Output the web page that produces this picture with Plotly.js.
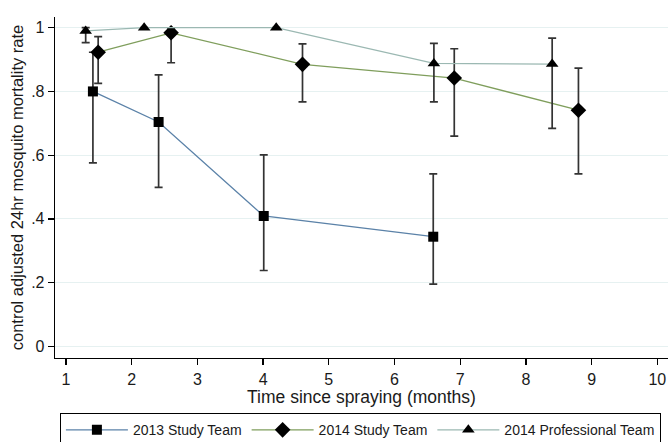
<!DOCTYPE html>
<html>
<head>
<meta charset="utf-8">
<script src="https://cdn.plot.ly/plotly-3.0.1.min.js"></script>
<style>html,body{margin:0;padding:0;background:#fff;}#chart{width:668px;height:442px;}</style>
</head>
<body>
<div id="chart"></div>
<script>
// Data (months since spraying vs control-adjusted 24hr mortality)
const names = ["2013 Study Team", "2014 Study Team", "2014 Professional Team"];

const x2013 = [1.41, 2.41, 4.01, 6.59];
const y2013 = [0.800, 0.704, 0.409, 0.344];
const hi2013 = [0.923, 0.852, 0.601, 0.541];
const lo2013 = [0.576, 0.499, 0.238, 0.195];

const x2014s = [1.49, 2.60, 4.60, 6.91, 8.80];
const y2014s = [0.923, 0.984, 0.885, 0.842, 0.741];
const hi2014s = [0.972, 0.998, 0.949, 0.934, 0.873];
const lo2014s = [0.825, 0.890, 0.767, 0.660, 0.541];

const x2014p = [1.30, 2.19, 4.20, 6.60, 8.40];
const y2014p = [0.990, 1.000, 1.000, 0.888, 0.886];
const hi2014p = [1.000, 1.000, 1.000, 0.951, 0.967];
const lo2014p = [0.953, 1.000, 1.000, 0.767, 0.684];

const xTickVals = [1, 2, 3, 4, 5, 6, 7, 8, 9, 10];
const yTickVals = [0, 0.2, 0.4, 0.6, 0.8, 1];
const yTickText = ["0", ".2", ".4", ".6", ".8", "1"];

const lineColors = ["#5b82a8", "#7f9e5c", "#9bb8b2"];
const symbols = ["square", "diamond", "triangle-up"];
const sizes = [10, 12, 11];

function mk(i, xs, ys, hi, lo) {
  return {
    type: "scatter", mode: "lines+markers", name: names[i],
    x: xs, y: ys,
    line: {color: lineColors[i], width: 1.3},
    marker: {symbol: symbols[i], size: sizes[i], color: "#000"},
    error_y: {type: "data", symmetric: false,
      array: hi.map((v, k) => v - ys[k]),
      arrayminus: lo.map((v, k) => ys[k] - v),
      color: "#333", thickness: 1.7, width: 4},
    cliponaxis: false
  };
}

const traces = [
  mk(0, x2013, y2013, hi2013, lo2013),
  mk(1, x2014s, y2014s, hi2014s, lo2014s),
  mk(2, x2014p, y2014p, hi2014p, lo2014p)
];

const font = "Liberation Sans, Arial, sans-serif";
const layout = {
  width: 668, height: 442,
  margin: {l: 55, r: 0, t: 17, b: 84, autoexpand: false},
  paper_bgcolor: "#fff", plot_bgcolor: "#fff",
  font: {family: font, size: 16, color: "#1a1a1a"},
  showlegend: true,
  xaxis: {
    range: [0.833, 10.163], tickvals: xTickVals, ticktext: xTickVals.map(String),
    showline: true, linecolor: "#000", linewidth: 1.3, mirror: false,
    ticks: "outside", ticklen: 6, tickcolor: "#000", tickwidth: 1.3,
    showgrid: false, zeroline: false, automargin: false,
    tickfont: {size: 16},
    title: {text: "Time since spraying (months)", font: {size: 17.5}, standoff: 0}
  },
  yaxis: {
    range: [-0.0367, 1.0336], tickvals: yTickVals, ticktext: yTickText,
    showline: true, linecolor: "#000", linewidth: 1.3,
    ticks: "outside", ticklen: 6, tickcolor: "#000", tickwidth: 1.3,
    showgrid: true, gridcolor: "#e6f1f1", gridwidth: 1, zeroline: false, automargin: false,
    tickfont: {size: 16},
    title: {text: "control adjusted 24hr mosquito mortality rate", font: {size: 16.5}, standoff: 3}
  },
  legend: {
    orientation: "h", x: 0.008, xanchor: "left", y: -0.162, yanchor: "top",
    bordercolor: "#000", borderwidth: 1, bgcolor: "#fff",
    font: {size: 14, family: font, color: "#1a1a1a"},
    itemwidth: 62, tracegroupgap: 0
  }
};

Plotly.newPlot("chart", traces, layout, {displayModeBar: false, staticPlot: true});
</script>
</body>
</html>
